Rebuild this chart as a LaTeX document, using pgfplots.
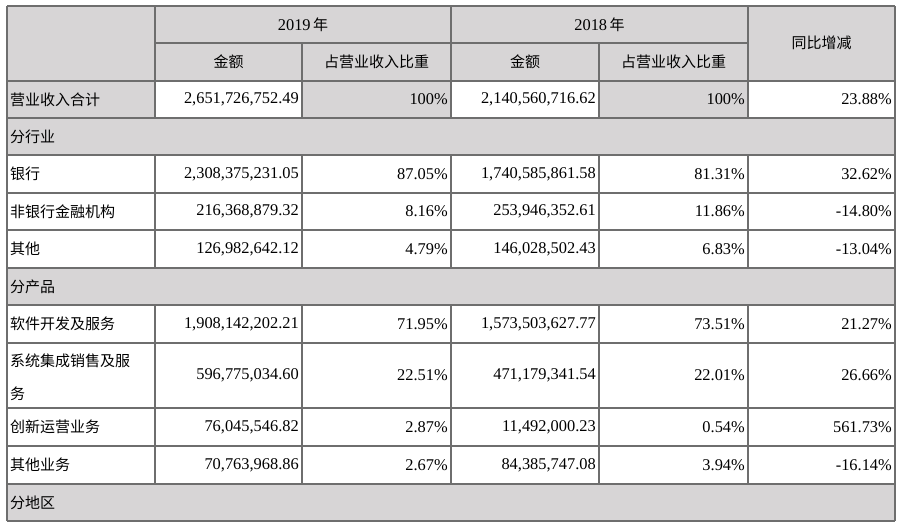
\documentclass[border=0pt]{standalone}
\usepackage{pgfplots}
\pgfplotsset{compat=1.18}
\usepackage{fontspec}
\setmainfont{Liberation Serif}
\newfontfamily\cjk{Noto Sans CJK SC}
\newcommand{\zh}[1]{{\cjk\fontsize{15}{17}\selectfont #1}}
\newcommand{\nm}[1]{{\fontsize{16.4}{18}\selectfont #1}}
\definecolor{cellgray}{HTML}{D7D5D6}
\definecolor{rulegray}{HTML}{6E6E6E}
% column edges
\def\cA{7}\def\cB{155}\def\cC{302}\def\cD{451}\def\cE{599}\def\cF{748}\def\cG{895}
\begin{document}
\begin{tikzpicture}
\begin{axis}[
  width=901pt, height=528pt, scale only axis,
  xmin=0, xmax=901, ymin=0, ymax=528, y dir=reverse,
  hide axis, clip=false]
\path (axis cs:0,0) rectangle (axis cs:901,528);
% fills
\fill[cellgray] (axis cs:\cA,6) rectangle (axis cs:\cG,81);
\fill[cellgray] (axis cs:\cA,81) rectangle (axis cs:\cB,118);
\fill[cellgray] (axis cs:\cC,81) rectangle (axis cs:\cD,118);
\fill[cellgray] (axis cs:\cE,81) rectangle (axis cs:\cF,118);
\fill[cellgray] (axis cs:\cA,118) rectangle (axis cs:\cG,155);
\fill[cellgray] (axis cs:\cA,268) rectangle (axis cs:\cG,305);
\fill[cellgray] (axis cs:\cA,484) rectangle (axis cs:\cG,521);
% horizontal rules
\pgfplotsinvokeforeach{6,81,118,155,193,230,268,305,343,408,446,484,521}{
  \draw[rulegray, line width=1.2pt] (axis cs:\cA,#1) -- (axis cs:\cG,#1);
}
\draw[rulegray, line width=1.2pt] (axis cs:\cB,43) -- (axis cs:\cF,43);
% vertical rules
\draw[rulegray, line width=1.2pt] (axis cs:\cA,6) -- (axis cs:\cA,521);
\draw[rulegray, line width=1.2pt] (axis cs:\cG,6) -- (axis cs:\cG,521);
\pgfplotsinvokeforeach{155,451,748}{
  \draw[rulegray, line width=1.2pt] (axis cs:#1,6) -- (axis cs:#1,118);
  \draw[rulegray, line width=1.2pt] (axis cs:#1,155) -- (axis cs:#1,268);
  \draw[rulegray, line width=1.2pt] (axis cs:#1,305) -- (axis cs:#1,484);
}
\pgfplotsinvokeforeach{302,599}{
  \draw[rulegray, line width=1.2pt] (axis cs:#1,43) -- (axis cs:#1,118);
  \draw[rulegray, line width=1.2pt] (axis cs:#1,155) -- (axis cs:#1,268);
  \draw[rulegray, line width=1.2pt] (axis cs:#1,305) -- (axis cs:#1,484);
}
% header texts
\node[inner sep=0pt] at (axis cs:303,25) {\nm{2019} \zh{年}};
\node[inner sep=0pt] at (axis cs:599.5,25) {\nm{2018} \zh{年}};
\node[inner sep=0pt] at (axis cs:228.5,62) {\zh{金额}};
\node[inner sep=0pt] at (axis cs:376.5,62) {\zh{占营业收入比重}};
\node[inner sep=0pt] at (axis cs:525,62) {\zh{金额}};
\node[inner sep=0pt] at (axis cs:673.5,62) {\zh{占营业收入比重}};
\node[inner sep=0pt] at (axis cs:821.5,43) {\zh{同比增减}};
% section labels
\node[inner sep=0pt, anchor=west] at (axis cs:10,136.5) {\zh{分行业}};
\node[inner sep=0pt, anchor=west] at (axis cs:10,286.5) {\zh{分产品}};
\node[inner sep=0pt, anchor=west] at (axis cs:10,502.5) {\zh{分地区}};
% data rows: y-center, label, 2019 amount, 2019 share, 2018 amount, 2018 share, change
\newcommand{\datarow}[7]{%
  \node[inner sep=0pt, anchor=west] at (axis cs:10,#1) {\zh{#2}};
  \node[inner sep=0pt, anchor=east] at (axis cs:299,#1) {\nm{#3}};
  \node[inner sep=0pt, anchor=east] at (axis cs:448,#1) {\nm{#4}};
  \node[inner sep=0pt, anchor=east] at (axis cs:596,#1) {\nm{#5}};
  \node[inner sep=0pt, anchor=east] at (axis cs:745,#1) {\nm{#6}};
  \node[inner sep=0pt, anchor=east] at (axis cs:892,#1) {\nm{#7}};
}
\datarow{99.5}{营业收入合计}{2,651,726,752.49}{100\%}{2,140,560,716.62}{100\%}{23.88\%}
\datarow{174}{银行}{2,308,375,231.05}{87.05\%}{1,740,585,861.58}{81.31\%}{32.62\%}
\datarow{211.5}{非银行金融机构}{216,368,879.32}{8.16\%}{253,946,352.61}{11.86\%}{-14.80\%}
\datarow{249}{其他}{126,982,642.12}{4.79\%}{146,028,502.43}{6.83\%}{-13.04\%}
\datarow{324}{软件开发及服务}{1,908,142,202.21}{71.95\%}{1,573,503,627.77}{73.51\%}{21.27\%}
\datarow{375.5}{}{596,775,034.60}{22.51\%}{471,179,341.54}{22.01\%}{26.66\%}
\node[inner sep=0pt, anchor=west] at (axis cs:10,361) {\zh{系统集成销售及服}};
\node[inner sep=0pt, anchor=west] at (axis cs:10,394) {\zh{务}};
\datarow{427}{创新运营业务}{76,045,546.82}{2.87\%}{11,492,000.23}{0.54\%}{561.73\%}
\datarow{465}{其他业务}{70,763,968.86}{2.67\%}{84,385,747.08}{3.94\%}{-16.14\%}
\end{axis}
\end{tikzpicture}
\end{document}
